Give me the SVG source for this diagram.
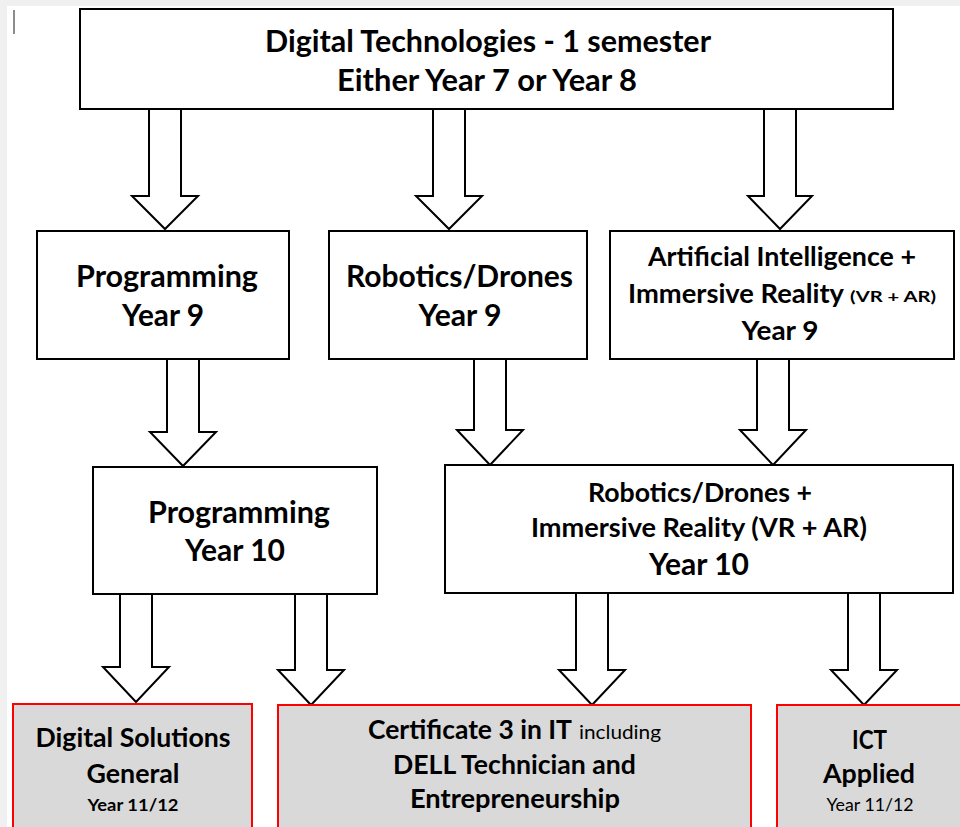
<svg xmlns="http://www.w3.org/2000/svg" width="960" height="827" viewBox="0 0 960 827">
<defs>
<style>
.box{fill:#fff;stroke:#000;stroke-width:2}
.red{fill:#d9d9d9;stroke:#ff0000;stroke-width:2}
.arr{fill:#fff;stroke:#000;stroke-width:2;stroke-linejoin:miter}
text{font-family:Lato,"Open Sans","Liberation Sans",sans-serif;fill:#000;font-weight:bold}
.c{text-anchor:middle}
.reg{font-weight:normal}
</style>
</defs>
<rect x="0" y="0" width="960" height="827" fill="#f0f0f0"/>
<rect x="7" y="6" width="953" height="821" fill="#fff"/>
<line x1="14" y1="10" x2="14" y2="34" stroke="#666" stroke-width="1.5"/>

<g id="connectors">
<polygon class="arr" points="149,109 149,196 132,196 165,229 198,196 181,196 181,109"/>
<polygon class="arr" points="433,109 433,196 416,196 449,229 482,196 465,196 465,109"/>
<polygon class="arr" points="764,109 764,196 748,196 780,229 812,196 796,196 796,109"/>
<polygon class="arr" points="167,359 167,432 150,432 183,466 216,432 199,432 199,359"/>
<polygon class="arr" points="474,359 474,430 457,430 490,465 523,430 506,430 506,359"/>
<polygon class="arr" points="757,359 757,430 740,430 773,465 806,430 789,430 789,359"/>
<polygon class="arr" points="120,594 120,667 103,667 136,702 169,667 152,667 152,594"/>
<polygon class="arr" points="295,594 295,670 278,670 311,705 344,670 327,670 327,594"/>
<polygon class="arr" points="576,593 576,670 559,670 592,705 625,670 608,670 608,593"/>
<polygon class="arr" points="848,593 848,670 831,670 864,705 897,670 880,670 880,593"/>
</g>

<g id="top">
<rect class="box" x="80" y="9" width="813" height="100"/>
<text class="c" x="488" y="52" font-size="30" textLength="446" lengthAdjust="spacingAndGlyphs">Digital Technologies - 1 semester</text>
<text class="c" x="487" y="91" font-size="30" textLength="300" lengthAdjust="spacingAndGlyphs">Either Year 7 or Year 8</text>
</g>

<g id="prog9">
<rect class="box" x="37" y="231" width="252" height="128"/>
<text class="c" x="167" y="287" font-size="30" textLength="182" lengthAdjust="spacingAndGlyphs">Programming</text>
<text class="c" x="163" y="326" font-size="30" textLength="82" lengthAdjust="spacingAndGlyphs">Year 9</text>
</g>

<g id="rob9">
<rect class="box" x="329" y="231" width="258" height="128"/>
<text class="c" x="459.5" y="287" font-size="30" textLength="227" lengthAdjust="spacingAndGlyphs">Robotics/Drones</text>
<text class="c" x="460" y="326" font-size="30" textLength="83" lengthAdjust="spacingAndGlyphs">Year 9</text>
</g>

<g id="ai9">
<rect class="box" x="610" y="231" width="344" height="128"/>
<text class="c" x="782" y="266" font-size="27" textLength="268" lengthAdjust="spacingAndGlyphs">Artificial Intelligence +</text>
<text x="628" y="303" font-size="27" textLength="216" lengthAdjust="spacingAndGlyphs">Immersive Reality</text>
<text x="850" y="302" font-size="16" textLength="86" lengthAdjust="spacingAndGlyphs">(VR + AR)</text>
<text class="c" x="780" y="340" font-size="27" textLength="77" lengthAdjust="spacingAndGlyphs">Year 9</text>
</g>

<g id="prog10">
<rect class="box" x="93" y="467" width="284" height="127"/>
<text class="c" x="239" y="523" font-size="30" textLength="182" lengthAdjust="spacingAndGlyphs">Programming</text>
<text class="c" x="235" y="561" font-size="30" textLength="100" lengthAdjust="spacingAndGlyphs">Year 10</text>
</g>

<g id="rob10">
<rect class="box" x="445" y="465" width="508" height="128"/>
<text class="c" x="700" y="502" font-size="27" textLength="224" lengthAdjust="spacingAndGlyphs">Robotics/Drones +</text>
<text class="c" x="699" y="537" font-size="27" textLength="336" lengthAdjust="spacingAndGlyphs">Immersive Reality (VR + AR)</text>
<text class="c" x="699" y="575" font-size="30" textLength="100" lengthAdjust="spacingAndGlyphs">Year 10</text>
</g>

<g id="digsol">
<rect class="red" x="13" y="704" width="239" height="130"/>
<text class="c" x="133" y="747" font-size="27" textLength="195" lengthAdjust="spacingAndGlyphs">Digital Solutions</text>
<text class="c" x="133" y="783" font-size="27" textLength="93" lengthAdjust="spacingAndGlyphs">General</text>
<text class="c" x="133" y="811" font-size="17" textLength="91" lengthAdjust="spacingAndGlyphs">Year 11/12</text>
</g>

<g id="cert">
<rect class="red" x="278" y="705" width="473" height="130"/>
<text x="368" y="739" font-size="27" textLength="204" lengthAdjust="spacingAndGlyphs">Certificate 3 in IT</text>
<text class="reg" x="579" y="739" font-size="20" textLength="82" lengthAdjust="spacingAndGlyphs">including</text>
<text class="c" x="514.5" y="774" font-size="27" textLength="243" lengthAdjust="spacingAndGlyphs">DELL Technician and</text>
<text class="c" x="515" y="808" font-size="27" textLength="210" lengthAdjust="spacingAndGlyphs">Entrepreneurship</text>
</g>

<g id="ict">
<rect class="red" x="777" y="705" width="190" height="130"/>
<text class="c" x="869.5" y="749" font-size="27" textLength="35" lengthAdjust="spacingAndGlyphs">ICT</text>
<text class="c" x="869" y="783" font-size="27" textLength="92" lengthAdjust="spacingAndGlyphs">Applied</text>
<text class="c reg" x="870" y="811" font-size="18" textLength="87" lengthAdjust="spacingAndGlyphs">Year 11/12</text>
</g>
</svg>
